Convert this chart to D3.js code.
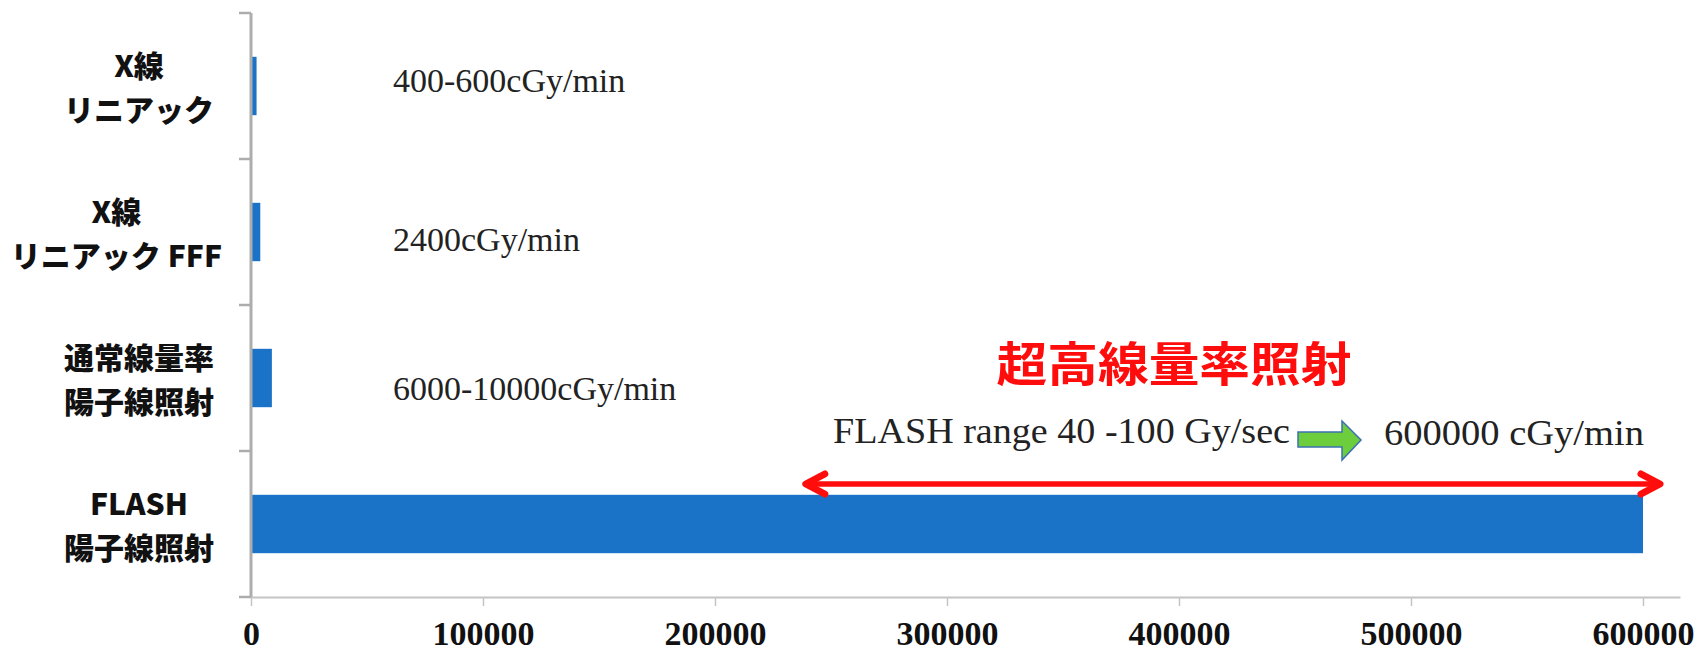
<!DOCTYPE html>
<html>
<head>
<meta charset="utf-8">
<script src="https://cdn.jsdelivr.net/npm/d3@7"></script>
<style>
  html, body { margin: 0; padding: 0; background: #fff; }
  svg { display: block; }
  .cat { font-family: "Noto Sans CJK JP", sans-serif; font-weight: 900; font-size: 30px; fill: #111; }
  .rate { font-family: "Liberation Serif", "Times New Roman", serif; font-size: 34px; fill: #222; }
  .tick text { font-family: "Liberation Serif", "Times New Roman", serif; font-weight: 700; font-size: 34px; fill: #111; }
</style>
</head>
<body>
<svg></svg>
<script>
// categories (top to bottom), each one is two lines
var categories = ["X線\nリニアック", "X線\nリニアック FFF", "通常線量率\n陽子線照射", "FLASH\n陽子線照射"];
// dose rate, cGy/min
var values = [2400, 4000, 9000, 600000];
// text next to the small bars
var rateLabels = ["400-600cGy/min", "2400cGy/min", "6000-10000cGy/min"];
var xTicks = [0, 100000, 200000, 300000, 400000, 500000, 600000];
var flashTitle = "超高線量率照射";
var flashRange = [240000, 600000]; // 40 - 100 Gy/sec
var flashText = "FLASH range 40 -100 Gy/sec";
var flashText2 = "600000 cGy/min";

var svgWidth = 1696, svgHeight = 653;
var x0 = 251, x1 = 1680, yTop = 13, yBottom = 597;

var svg = d3.select("svg")
  .attr("width", svgWidth)
  .attr("height", svgHeight);

// axis runs a bit past 600000
var xMax = 600000 * (x1 - x0) / (1643 - x0);
var x = d3.scaleLinear().domain([0, xMax]).range([x0, x1]);
var y = d3.scaleBand().domain(categories).range([yTop, yBottom]).padding(0);
var bw = y.bandwidth();

// bars
svg.append("g").selectAll("rect")
  .data(categories)
  .enter().append("rect")
    .attr("x", x(0))
    .attr("y", function(d){ return y(d) + bw*0.3; })
    .attr("width", function(d,i){ return x(values[i]) - x(0); })
    .attr("height", bw*0.4)
    .style("fill", "#1b73c8");

// x axis
var xAxis = svg.append("g")
  .attr("transform", "translate(0," + yBottom + ")")
  .call(d3.axisBottom(x).tickValues(xTicks).tickSize(9).tickSizeOuter(0).tickFormat(d3.format("d")));
xAxis.select(".domain").style("stroke", "#c4c4c4").style("stroke-width", 2);
xAxis.selectAll(".tick line").style("stroke", "#c4c4c4").style("stroke-width", 1.5);
xAxis.selectAll(".tick text").attr("y", 48).attr("dy", 0);

// y axis, ticks on the band edges
var yAxis = svg.append("g");
yAxis.append("line")
  .attr("x1", x0).attr("x2", x0)
  .attr("y1", yTop).attr("y2", yBottom)
  .style("stroke", "#adadad").style("stroke-width", 3);
var edges = categories.map(function(c){ return y(c); }).concat([yBottom]);
yAxis.selectAll(".ytick")
  .data(edges)
  .enter().append("line")
    .attr("x1", x0 - 12).attr("x2", x0)
    .attr("y1", function(d){ return d; }).attr("y2", function(d){ return d; })
    .style("stroke", "#adadad").style("stroke-width", 2.5);

// category labels: lines centered in a block, block kept left of the axis
var lineH = 44.5;
categories.forEach(function(c, i) {
  var lines = c.split("\n");
  var g = svg.append("g");
  var texts = lines.map(function(l, j) {
    return g.append("text")
      .attr("class", "cat")
      .attr("text-anchor", "middle")
      .attr("y", y(c) + bw/2 + 2 + (j - (lines.length-1)/2)*lineH + 11)
      .text(l);
  });
  var maxW = d3.max(texts, function(t){ return t.node().getComputedTextLength(); });
  var cx = Math.min(139, 222 - maxW/2);
  texts.forEach(function(t){ t.attr("x", cx); });
});

// rate notes beside small bars
var rateDy = [6, 19, 22];
svg.selectAll(".rate")
  .data(rateLabels)
  .enter().append("text")
    .attr("class", "rate")
    .attr("x", 393)
    .attr("y", function(d,i){ return y(categories[i]) + bw/2 + rateDy[i]; })
    .text(function(d){ return d; });

// FLASH annotation
var red = "#ff0d0d";
svg.append("text")
  .attr("x", 1174).attr("y", 381)
  .attr("text-anchor", "middle")
  .attr("textLength", 355)
  .attr("lengthAdjust", "spacingAndGlyphs")
  .style("font-family", "\"Noto Sans CJK JP\", sans-serif")
  .style("font-weight", 700)
  .style("font-size", "47px")
  .style("fill", red)
  .text(flashTitle);

svg.append("text")
  .attr("x", 833).attr("y", 443)
  .attr("textLength", 457)
  .attr("lengthAdjust", "spacingAndGlyphs")
  .style("font-family", "\"Liberation Serif\", serif")
  .style("font-size", "36px")
  .style("fill", "#222")
  .text(flashText);

svg.append("text")
  .attr("x", 1384).attr("y", 445)
  .attr("textLength", 260)
  .attr("lengthAdjust", "spacingAndGlyphs")
  .style("font-family", "\"Liberation Serif\", serif")
  .style("font-size", "36px")
  .style("fill", "#222")
  .text(flashText2);

// green block arrow
var ga = [[1298,432],[1342,432],[1342,421],[1361,440],[1342,460],[1342,447],[1298,447]];
svg.append("path")
  .attr("d", "M" + ga.join("L") + "Z")
  .style("fill", "#6ccd3d")
  .style("stroke", "#3c70b4")
  .style("stroke-width", 1.5);

// red double arrow over the FLASH range
var ay = 484, ax0 = x(flashRange[0]) - 2, ax1 = x(flashRange[1]) + 17;
var arrow = svg.append("g")
  .style("stroke", red).style("fill", "none")
  .style("stroke-linecap", "round").style("stroke-linejoin", "round");
arrow.append("line")
  .attr("x1", ax0).attr("x2", ax1)
  .attr("y1", ay).attr("y2", ay)
  .style("stroke-width", 5.5);
arrow.append("path")
  .attr("d", "M" + (ax0+19) + "," + (ay-10) + "L" + ax0 + "," + ay + "L" + (ax0+19) + "," + (ay+10))
  .style("stroke-width", 7);
arrow.append("path")
  .attr("d", "M" + (ax1-19) + "," + (ay-10) + "L" + ax1 + "," + ay + "L" + (ax1-19) + "," + (ay+10))
  .style("stroke-width", 7);
</script>
</body>
</html>
